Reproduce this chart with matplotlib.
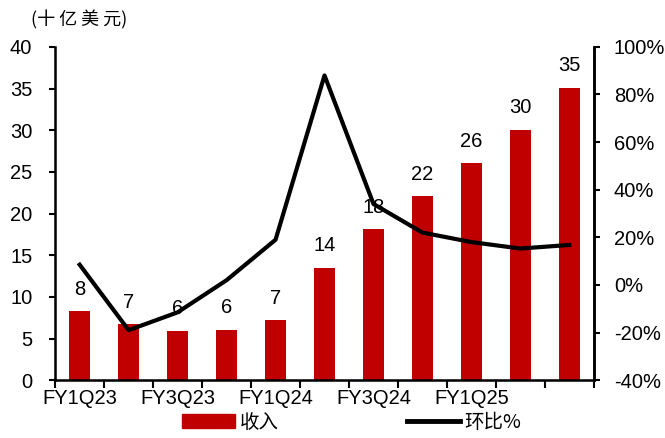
import numpy as np
import matplotlib
matplotlib.use('Agg')
import matplotlib.pyplot as plt
from matplotlib.patches import Patch
from matplotlib.lines import Line2D

plt.rcParams['font.family'] = ['Liberation Sans', 'Noto Sans CJK SC', 'DejaVu Sans']

quarters = ['FY1Q23', 'FY2Q23', 'FY3Q23', 'FY4Q23', 'FY1Q24', 'FY2Q24',
            'FY3Q24', 'FY4Q24', 'FY1Q25', 'FY2Q25', 'FY3Q25']
revenue = [8.29, 6.70, 5.93, 6.05, 7.19, 13.51, 18.12, 22.10, 26.04, 30.04, 35.08]
revenue_labels = ['8', '7', '6', '6', '7', '14', '18', '22', '26', '30', '35']
qoq = [8.5, -19.0, -11.5, 2.0, 19.0, 88.0, 34.0, 22.0, 18.0, 15.3, 16.8]
shown_labels = ['FY1Q23', 'FY3Q23', 'FY1Q24', 'FY3Q24', 'FY1Q25']

fig = plt.figure(figsize=(6.65, 4.38), dpi=100)
ax = fig.add_axes([0.083, 0.132, 0.810, 0.761])
x = np.arange(len(quarters))

ax.bar(x, revenue, width=0.42, color='#C00000', zorder=2)
for xi, v, lab in zip(x, revenue, revenue_labels):
    ax.annotate(lab, (xi, v), xytext=(0, 9), textcoords='offset points',
                ha='center', va='bottom', fontsize=14.5)

ax.set_xlim(-0.5, len(quarters) - 0.5)
ax.set_ylim(0, 40)
ax.set_yticks(range(0, 41, 5))
ax.tick_params(axis='y', labelsize=14.5, direction='out', length=4.5, width=1.5, pad=12)
ax.set_xticks(np.arange(-0.5, len(quarters)), minor=False)
ax.set_xticklabels([])
ax.set_xticks([quarters.index(q) for q in shown_labels], minor=True)
ax.set_xticklabels(shown_labels, minor=True)
ax.tick_params(axis='x', which='major', direction='out', length=6, width=1.5)
ax.tick_params(axis='x', which='minor', length=0, labelsize=14.5, pad=6)
ax.spines['top'].set_visible(False)
for s in ['left', 'bottom', 'right']:
    ax.spines[s].set_linewidth(1.8)

ax2 = ax.twinx()
ax2.plot(x, qoq, color='black', lw=3, zorder=3)
ax2.set_ylim(-40, 100)
ax2.set_yticks(range(-40, 101, 20))
ax2.set_yticklabels([f'{t}%' for t in range(-40, 101, 20)])
ax2.tick_params(axis='y', labelsize=14.5, direction='out', length=4.5, width=1.5, pad=10)
ax2.spines['top'].set_visible(False)
ax2.spines['right'].set_linewidth(1.8)

fig.text(0.046, 0.955, '(十 亿 美 元)', fontsize=13, ha='left', va='center',
         family=['Noto Sans CJK SC', 'DejaVu Sans'])

handles = [Patch(color='#C00000'), Line2D([0], [0], color='black', lw=3.5)]
fig.legend(handles, ['收入', '环比%'], loc='center', bbox_to_anchor=(0.529, 0.036),
           ncol=2, frameon=False, handlelength=2.7, handleheight=0.8,
           columnspacing=6.6, handletextpad=0.25,
           prop={'family': ['Noto Sans CJK SC', 'DejaVu Sans'], 'size': 14})

fig.savefig('out.png', dpi=100)
